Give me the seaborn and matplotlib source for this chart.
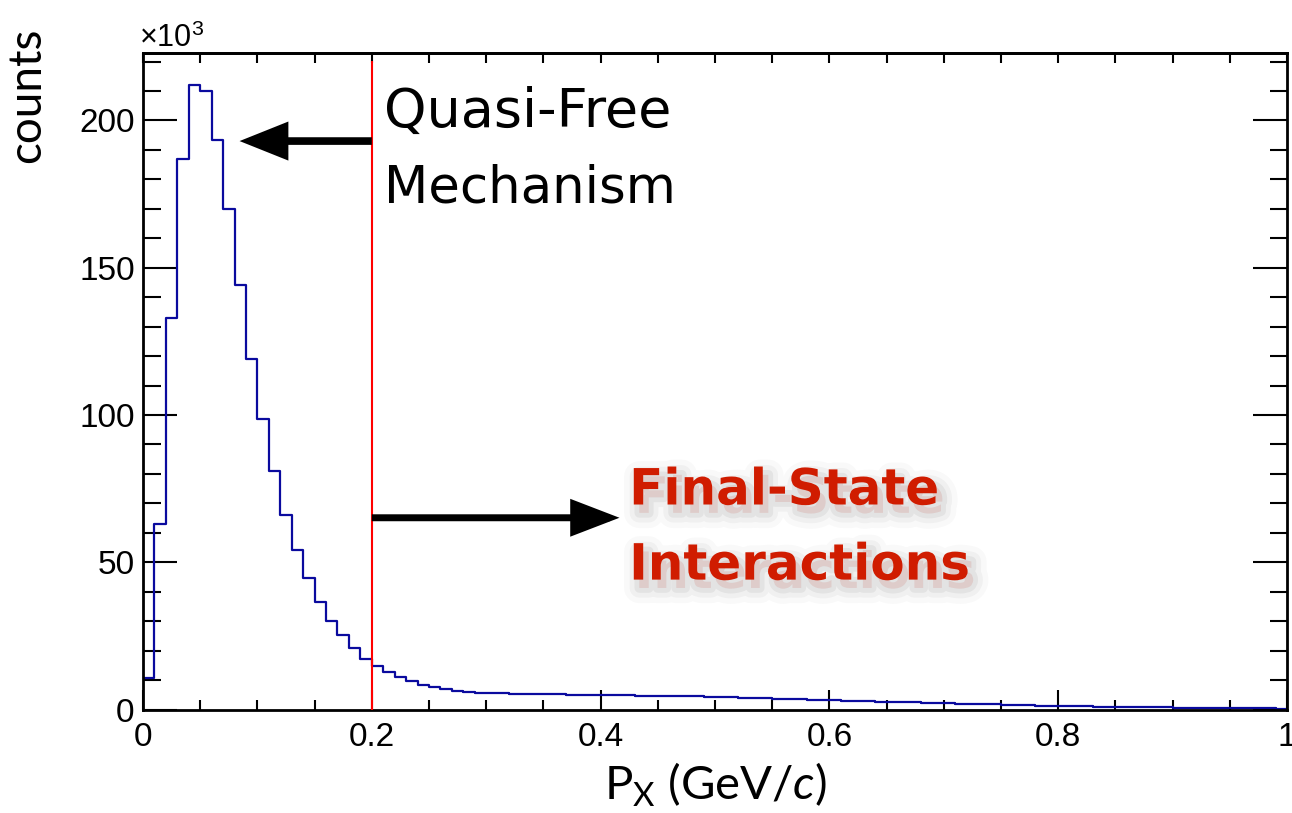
import numpy as np
import pandas as pd
import matplotlib
matplotlib.use("Agg")
import matplotlib.pyplot as plt
import matplotlib.patheffects as pe
from matplotlib.ticker import MultipleLocator, FixedLocator, FixedFormatter
import seaborn as sns

# ---------------- data (counts in units of 10^3, 100 bins of 0.01 GeV/c) -------------
bin_low = 0.0
bin_high = 1.0
n_bins = 100
counts_k = [
    10.8, 63.0, 133.0, 187.0, 212.0, 210.0, 193.5, 170.0, 144.0, 119.0,
    98.5, 81.0, 66.0, 54.0, 44.5, 36.5, 30.2, 25.2, 20.8, 17.2,
    14.9, 12.9, 11.2, 9.7, 8.3, 7.5, 6.9, 6.3, 5.95, 5.7,
    5.6, 5.5, 5.4, 5.3, 5.25, 5.2, 5.1, 5.05, 5.0, 4.95,
    4.9, 4.85, 4.8, 4.75, 4.7, 4.6, 4.55, 4.5, 4.45, 4.35,
    4.3, 4.2, 4.05, 3.95, 3.85, 3.7, 3.6, 3.5, 3.35, 3.25,
    3.15, 3.0, 2.9, 2.8, 2.7, 2.6, 2.5, 2.4, 2.3, 2.2,
    2.05, 1.95, 1.85, 1.8, 1.7, 1.6, 1.5, 1.45, 1.35, 1.3,
    1.2, 1.15, 1.1, 1.0, 0.95, 0.9, 0.85, 0.8, 0.75, 0.7,
    0.65, 0.6, 0.55, 0.5, 0.5, 0.45, 0.4, 0.35, 0.35, 0.3,
]
cut_value = 0.2
x_tick_values = [0.0, 0.2, 0.4, 0.6, 0.8, 1.0]
x_tick_labels = ["0", "0.2", "0.4", "0.6", "0.8", "1"]
y_tick_values = [0, 50, 100, 150, 200]
y_tick_labels = ["0", "50", "100", "150", "200"]
y_max = 223.0

label_qf = ["Quasi-Free", "Mechanism"]
label_fsi = ["Final-State", "Interactions"]

# ---------------- style ----------------
sns.set_style("ticks")
plt.rcParams["font.family"] = ["Liberation Sans", "DejaVu Sans"]
plt.rcParams["mathtext.fontset"] = "custom"
plt.rcParams["mathtext.rm"] = "Lato"
plt.rcParams["mathtext.it"] = "Lato:italic"
plt.rcParams["text.color"] = "black"
plt.rcParams["xtick.color"] = "black"
plt.rcParams["ytick.color"] = "black"

W, H = 1292, 813
fig = plt.figure(figsize=(W / 100, H / 100), dpi=100)
fig.patch.set_facecolor("white")
ax = fig.add_axes([143 / W, 1 - 709.5 / H, (1287 - 143) / W, (709.5 - 52.7) / H])
ax.set_facecolor("white")

edges = np.linspace(bin_low, bin_high, n_bins + 1)
centers = 0.5 * (edges[:-1] + edges[1:])
df = pd.DataFrame({"px": centers, "counts": counts_k})
sns.histplot(data=df, x="px", weights="counts", bins=list(edges), element="step",
             fill=False, color="#0a0a9e", linewidth=1.6, ax=ax)

ax.set_xlim(bin_low, bin_high)
ax.set_ylim(0, y_max)
ax.set_ylabel("")
ax.set_xlabel("")

# cut line
ax.vlines(cut_value, 0, 220.2, color="#ff0000", linewidth=1.5, zorder=3)

# spines
for s in ax.spines.values():
    s.set_visible(True)
    s.set_linewidth(2.0)
    s.set_color("black")

# ticks
ax.xaxis.set_major_locator(FixedLocator(x_tick_values))
ax.xaxis.set_major_formatter(FixedFormatter(x_tick_labels))
ax.xaxis.set_minor_locator(MultipleLocator(0.05))
ax.yaxis.set_major_locator(FixedLocator(y_tick_values))
ax.yaxis.set_major_formatter(FixedFormatter(y_tick_labels))
ax.yaxis.set_minor_locator(MultipleLocator(10))

ax.tick_params(axis="x", which="major", direction="in", length=14.4, width=1.5,
               labelsize=24, pad=9, top=False, bottom=True, colors="black")
ax.tick_params(axis="x", which="minor", direction="in", length=7.2, width=1.5,
               top=False, bottom=True, colors="black")
ax.tick_params(axis="y", which="major", direction="in", length=24.5, width=1.5,
               labelsize=24, pad=6, left=True, right=True, colors="black")
ax.tick_params(axis="y", which="minor", direction="in", length=12.6, width=1.5,
               left=True, right=True, colors="black")

secx = ax.secondary_xaxis("top")
secx.xaxis.set_major_locator(MultipleLocator(0.05))
secx.tick_params(axis="x", which="major", direction="in", length=7.2, width=1.5,
                 labeltop=False, colors="black")
secx.spines["top"].set_linewidth(2.0)
secx.spines["top"].set_color("black")

# axis titles
fig.text((143 + 1287) / 2 / W, 1 - 800 / H,
         r"P$_\mathregular{X}$ (GeV/$\mathit{c}$)",
         ha="center", va="baseline", fontsize=34, family="Lato", color="black")
fig.text(27 / W, 1 - 28 / H, "counts", rotation=90, ha="center", va="top",
         fontsize=33, family="Lato", color="black")
fig.text(139 / W, 1 - 47 / H, r"×10$^{\mathregular{3}}$", ha="left",
         va="baseline", fontsize=22, family="Liberation Sans", color="black")

# annotations
ax.annotate("", xy=(0.0844, 193), xytext=(cut_value, 193),
            arrowprops=dict(arrowstyle="-|>,head_length=1.25,head_width=0.5",
                            lw=5.5, color="black", shrinkA=0, shrinkB=0,
                            mutation_scale=20, joinstyle="miter", capstyle="butt"))
ax.annotate("", xy=(0.4165, 65.1), xytext=(cut_value, 65.1),
            arrowprops=dict(arrowstyle="-|>,head_length=1.3,head_width=0.5",
                            lw=5.0, color="black", shrinkA=0, shrinkB=0,
                            mutation_scale=20, joinstyle="miter", capstyle="butt"))

ax.text(0.211, 197.8, label_qf[0], fontsize=39, family="DejaVu Sans",
        color="black", ha="left", va="baseline")
ax.text(0.211, 172.3, label_qf[1], fontsize=37, family="DejaVu Sans",
        color="black", ha="left", va="baseline")

shadow = [pe.Stroke(linewidth=22, foreground="#000000", alpha=0.025, offset=(4, -6)),
          pe.Stroke(linewidth=14, foreground="#000000", alpha=0.035, offset=(4, -6)),
          pe.Stroke(linewidth=7, foreground="#000000", alpha=0.05, offset=(4, -6)),
          pe.Normal()]
ax.text(0.425, 69.6, label_fsi[0], fontsize=36, family="DejaVu Sans",
        fontweight="bold", color="#d01c00", ha="left", va="baseline",
        path_effects=shadow)
ax.text(0.425, 44.1, label_fsi[1], fontsize=36, family="DejaVu Sans",
        fontweight="bold", color="#d01c00", ha="left", va="baseline",
        path_effects=shadow)

fig.savefig("out.png", dpi=100, facecolor="white")
